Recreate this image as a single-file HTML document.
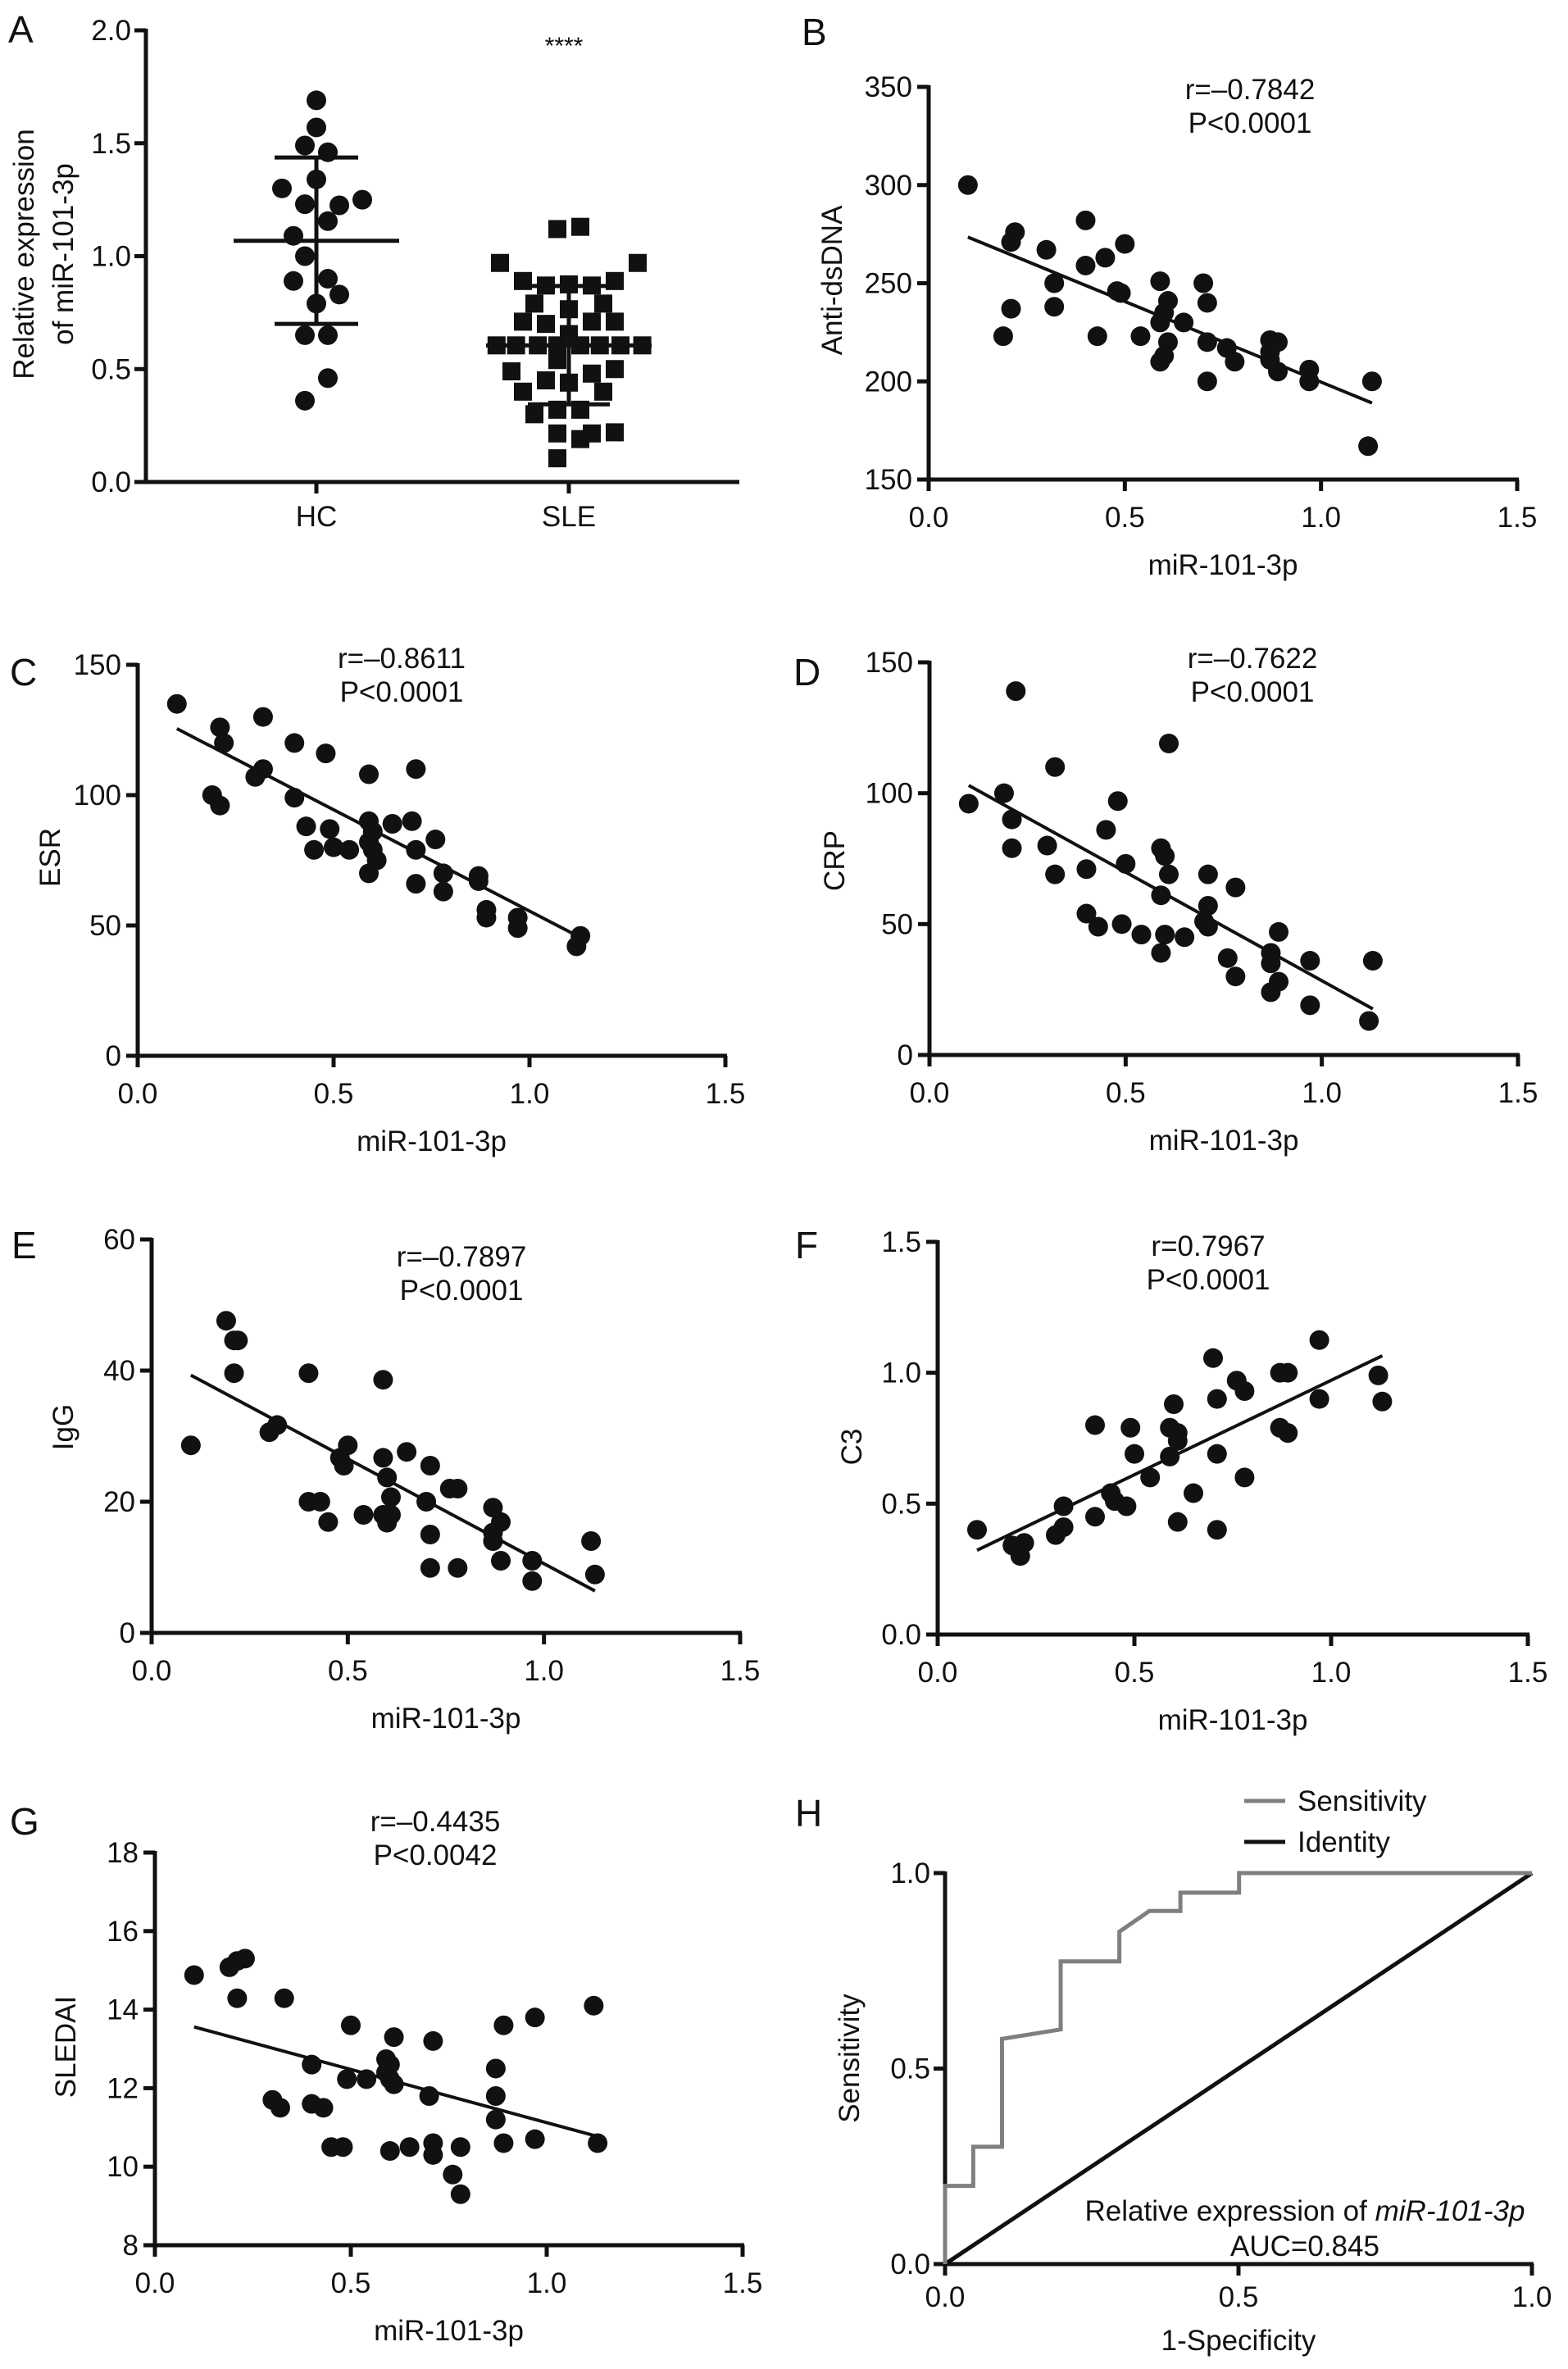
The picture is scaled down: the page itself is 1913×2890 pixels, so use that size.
<!DOCTYPE html>
<html><head><meta charset="utf-8"><style>
html,body{margin:0;padding:0;background:#fff}
svg{display:block}
text{font-family:"Liberation Sans",Arial,sans-serif;fill:#111}
</style></head><body>
<svg id="fig" width="1913" height="2890" viewBox="0 0 1913 2890" xmlns="http://www.w3.org/2000/svg"></svg>
<script>
// ---- Panel A data ----
const A_categories = ["HC","SLE"];
const A_HC_values = [1.69,1.57,1.49,1.46,1.34,1.30,1.23,1.225,1.25,1.155,1.09,1.00,0.89,0.90,0.83,0.79,0.65,0.65,0.46,0.36];
const A_HC_slot = [0,0,-1,1,0,-3,-1,2,4,1,-2,-1,-2,1,2,0,-1,1,1,-1];
const A_HC_stats = [1.068,1.437,0.70];
const A_SLE_values = [1.12,1.13,0.97,0.97,0.89,0.87,0.875,0.87,0.89,0.79,0.765,0.79,0.71,0.70,0.71,0.71,0.655,0.605,0.605,0.605,0.605,0.605,0.605,0.605,0.605,0.54,0.49,0.50,0.45,0.48,0.44,0.40,0.40,0.30,0.32,0.32,0.215,0.19,0.215,0.22,0.105];
const A_SLE_slot = [-1,1,-6,6,-4,-2,0,2,4,-3,0,3,-4,-2,2,4,0,-6.3,-4.6,-2.7,-1,1,2.7,4.5,6.4,-1,-5,4,-2,2,0,-4,3,-3,-1,1,-1,1,2,4,-1];
const A_SLE_stats = [0.605,0.868,0.344];
const A_yticks = ["0.0","0.5","1.0","1.5","2.0"];
// ---- Scatter panels ----
const xTicks = ["0.0","0.5","1.0","1.5"];
const B_x = [0.10,0.21,0.22,0.19,0.21,0.30,0.32,0.32,0.40,0.40,0.45,0.43,0.48,0.49,0.50,0.54,0.59,0.59,0.60,0.61,0.61,0.59,0.60,0.65,0.70,0.71,0.71,0.71,0.76,0.78,0.87,0.89,0.87,0.87,0.89,0.97,0.97,1.13,1.12];
const B_y = [300,271,276,223,237,267,250,238,282,259,263,223,246,245,270,223,251,230,235,241,220,210,213,230,250,240,220,200,217,210,221,220,215,211,205,206,200,200,167];
const B_fit = [[0.10,273.5],[1.13,189]];
const B_yticks = [150,200,250,300,350];
const C_x = [0.10,0.21,0.22,0.32,0.30,0.32,0.19,0.21,0.40,0.48,0.40,0.43,0.49,0.45,0.50,0.54,0.59,0.59,0.60,0.59,0.60,0.61,0.59,0.65,0.70,0.71,0.71,0.71,0.76,0.78,0.78,0.87,0.87,0.89,0.89,0.97,0.97,1.13,1.12];
const C_y = [135,126,120,130,107,110,100,96,120,116,99,88,87,79,80,79,108,90,86,82,79,75,70,89,90,110,79,66,83,70,63,69,67,56,53,53,49,46,42];
const C_fit = [[0.10,125.5],[1.13,45.4]];
const C_yticks = [0,50,100,150];
const D_x = [0.10,0.19,0.21,0.21,0.22,0.30,0.32,0.32,0.40,0.40,0.43,0.45,0.48,0.50,0.49,0.54,0.59,0.60,0.61,0.61,0.59,0.60,0.59,0.65,0.71,0.71,0.70,0.71,0.78,0.76,0.78,0.87,0.87,0.89,0.89,0.87,0.97,0.97,1.13,1.12];
const D_y = [96,100,90,79,139,80,110,69,71,54,49,86,97,73,50,46,79,76,69,119,61,46,39,45,69,57,51,49,64,37,30,39,35,47,28,24,36,19,36,13];
const D_fit = [[0.10,103],[1.13,17.6]];
const D_yticks = [0,50,100,150];
const E_x = [0.10,0.19,0.21,0.22,0.21,0.30,0.32,0.40,0.59,0.40,0.43,0.45,0.50,0.48,0.49,0.54,0.59,0.60,0.61,0.59,0.61,0.60,0.65,0.71,0.70,0.71,0.71,0.76,0.78,0.78,0.87,0.89,0.87,0.87,0.89,0.97,0.97,1.12,1.13];
const E_y = [28.6,47.6,44.6,44.6,39.6,30.6,31.7,39.6,38.6,20,20,16.9,28.6,26.7,25.5,18,26.7,23.7,20.7,18,18,16.8,27.6,25.5,20,15,9.9,22,22,9.9,19.1,16.9,15.3,14,11,11,7.9,14,8.9];
const E_fit = [[0.10,39.3],[1.13,6.4]];
const E_yticks = [0,20,40,60];
const F_x = [0.10,0.19,0.21,0.22,0.30,0.32,0.32,0.40,0.40,0.44,0.45,0.48,0.49,0.50,0.54,0.59,0.60,0.59,0.61,0.61,0.61,0.65,0.70,0.71,0.71,0.71,0.76,0.78,0.78,0.87,0.89,0.87,0.89,0.97,0.97,1.12,1.13];
const F_y = [0.40,0.34,0.30,0.35,0.38,0.41,0.49,0.80,0.45,0.54,0.51,0.49,0.79,0.69,0.60,0.68,0.88,0.79,0.77,0.74,0.43,0.54,1.056,0.90,0.69,0.40,0.97,0.93,0.60,1.0,1.0,0.79,0.77,1.125,0.90,0.99,0.89];
const F_fit = [[0.10,0.322],[1.13,1.065]];
const F_yticks = ["0.0","0.5","1.0","1.5"];
const G_x = [0.10,0.19,0.21,0.23,0.21,0.33,0.30,0.32,0.40,0.40,0.43,0.45,0.48,0.50,0.49,0.54,0.61,0.59,0.60,0.59,0.60,0.61,0.60,0.65,0.71,0.70,0.71,0.71,0.76,0.78,0.78,0.87,0.87,0.87,0.89,0.89,0.97,0.97,1.12,1.13];
const G_y = [14.88,15.08,15.24,15.3,14.29,14.29,11.7,11.5,12.6,11.6,11.5,10.5,10.5,13.6,12.23,12.23,13.3,12.74,12.6,12.4,12.23,12.1,10.4,10.5,13.2,11.8,10.6,10.3,9.8,10.5,9.3,12.5,11.8,11.2,13.6,10.6,13.8,10.7,14.1,10.6];
const G_fit = [[0.10,13.56],[1.13,10.77]];
const G_yticks = [8,10,12,14,16,18];
// ---- ROC ----
const roc_x = [0,0,0.048,0.048,0.097,0.097,0.197,0.197,0.297,0.297,0.348,0.401,0.401,0.501,0.501,1.0];
const roc_y = [0,0.2,0.2,0.3,0.3,0.576,0.60,0.774,0.774,0.85,0.903,0.903,0.95,0.95,1.0,1.0];
const H_ticks = ["0.0","0.5","1.0"];

const NS="http://www.w3.org/2000/svg";
const svg=document.getElementById('fig');
function mk(tag,attrs,parent,txt){const e=document.createElementNS(NS,tag);for(const k in attrs)e.setAttribute(k,attrs[k]);if(txt!==undefined)e.textContent=txt;(parent||svg).appendChild(e);return e;}
function lin(d0,d1,r0,r1){return v=>r0+(v-d0)*(r1-r0)/(d1-d0);}

function frame(g,X0,X1,Y0,Y1){
  const ax=mk('line',{x1:X0,y1:Y0+2,x2:X0,y2:Y1-2,stroke:'#111','stroke-width':5},g);
  
  const bx=mk('line',{x1:X0-14,y1:Y0,x2:X1+2,y2:Y0,stroke:'#111','stroke-width':5},g);
  
}
function scatter(o){
  const g=mk('g',{});
  
  
  const sx=lin(0,1.5,o.X0,o.X1), sy=lin(o.ymin,o.ymax,o.Y0,o.Y1);
  frame(g,o.X0,o.X1,o.Y0,o.Y1);
  o.yt.forEach(t=>{const v=+t,y=sy(v);
    mk('line',{x1:o.X0-14,y1:y,x2:o.X0,y2:y,stroke:'#111','stroke-width':5},g);
    const tx=mk('text',{x:o.X0-20,y:y+12,'font-size':35,'text-anchor':'end'},g,String(t));
    });
  xTicks.forEach(t=>{const x=sx(+t);
    mk('line',{x1:x,y1:o.Y0,x2:x,y2:o.Y0+14,stroke:'#111','stroke-width':5},g);
    const tx=mk('text',{x:x,y:o.Y0+58,'font-size':35,'text-anchor':'middle'},g,t);
    });
  const xt=mk('text',{x:(o.X0+o.X1)/2,y:o.Y0+116,'font-size':35,'text-anchor':'middle'},g,'miR-101-3p');
  
  const yt=mk('text',{x:0,y:0,'font-size':35,'text-anchor':'middle',transform:`translate(${o.ytx},${o.yty}) rotate(-90)`},g,o.ytitle);
  
  const lb=mk('text',{x:o.lx,y:o.ly,'font-size':46},g,o.letter);
  
  const r1=mk('text',{x:o.rx,y:o.ry,'font-size':35,'text-anchor':'middle'},g,o.rtext);
  
  const r2=mk('text',{x:o.rx,y:o.ry+41,'font-size':35,'text-anchor':'middle'},g,o.ptext);
  
  o.xs.forEach((xv,i)=>{const c=mk('circle',{cx:sx(xv),cy:sy(o.ys[i]),r:12,fill:'#111'},g);
    });
  const f=mk('line',{x1:sx(o.fit[0][0]),y1:sy(o.fit[0][1]),x2:sx(o.fit[1][0]),y2:sy(o.fit[1][1]),stroke:'#111','stroke-width':4},g);
  
}

// ---- Panel A ----
(function(){
  const g=mk('g',{});
  
  
  const X0=178,X1=900,Y0=588,Y1=37;
  const sy=lin(0,2,Y0,Y1); const cx=[386,694]; const slot=14;
  frame(g,X0,X1,Y0,Y1);
  A_yticks.forEach(t=>{const y=sy(+t);
    mk('line',{x1:X0-14,y1:y,x2:X0,y2:y,stroke:'#111','stroke-width':5},g);
    const tx=mk('text',{x:X0-18,y:y+12,'font-size':35,'text-anchor':'end'},g,t);
    });
  A_categories.forEach((c,i)=>{
    mk('line',{x1:cx[i],y1:Y0,x2:cx[i],y2:Y0+14,stroke:'#111','stroke-width':5},g);
    const tx=mk('text',{x:cx[i],y:Y0+54,'font-size':35,'text-anchor':'middle'},g,c);
    });
  A_HC_values.forEach((v,i)=>{const c=mk('circle',{cx:cx[0]+A_HC_slot[i]*slot,cy:sy(v),r:12,fill:'#111'},g);
    });
  A_SLE_values.forEach((v,i)=>{const s=mk('rect',{x:cx[1]+A_SLE_slot[i]*slot-11,y:sy(v)-11,width:22,height:22,fill:'#111'},g);
    });
  [[A_HC_stats,0,101,51],[A_SLE_stats,1,101,50]].forEach(([st,i,mw,cw])=>{
    const x=cx[i];
    mk('line',{x1:x-mw,y1:sy(st[0]),x2:x+mw,y2:sy(st[0]),stroke:'#111','stroke-width':5},g);
    mk('line',{x1:x,y1:sy(st[1]),x2:x,y2:sy(st[2]),stroke:'#111','stroke-width':5},g);
    mk('line',{x1:x-cw,y1:sy(st[1]),x2:x+cw,y2:sy(st[1]),stroke:'#111','stroke-width':5},g);
    mk('line',{x1:x-cw,y1:sy(st[2]),x2:x+cw,y2:sy(st[2]),stroke:'#111','stroke-width':5},g);
  });
  const st=mk('text',{x:688,y:66,'font-size':30,'text-anchor':'middle'},g,'****');
  
  const y1=mk('text',{x:0,y:0,'font-size':35,'text-anchor':'middle',transform:'translate(41,310) rotate(-90)'},g,'Relative expression');
  
  const y2=mk('text',{x:0,y:0,'font-size':35,'text-anchor':'middle',transform:'translate(89,310) rotate(-90)'},g,'of miR-101-3p');
  
  const lb=mk('text',{x:10,y:52,'font-size':46},g,'A');
  
})();

scatter({name:'panel-b-anti-dsdna',X0:1133,X1:1851,Y0:585,Y1:106,ymin:150,ymax:350,yt:B_yticks,xs:B_x,ys:B_y,fit:B_fit,ytitle:'Anti-dsDNA',ytx:1027,yty:342,letter:'B',lx:978,ly:55,rx:1525,ry:121,rtext:'r=\u20130.7842',ptext:'P<0.0001'});
scatter({name:'panel-c-esr',X0:168,X1:885,Y0:1288,Y1:811,ymin:0,ymax:150,yt:C_yticks,xs:C_x,ys:C_y,fit:C_fit,ytitle:'ESR',ytx:73,yty:1046,letter:'C',lx:12,ly:836,rx:490,ry:815,rtext:'r=\u20130.8611',ptext:'P<0.0001'});
scatter({name:'panel-d-crp',X0:1134,X1:1852,Y0:1287,Y1:808,ymin:0,ymax:150,yt:D_yticks,xs:D_x,ys:D_y,fit:D_fit,ytitle:'CRP',ytx:1030,yty:1050,letter:'D',lx:968,ly:836,rx:1528,ry:815,rtext:'r=\u20130.7622',ptext:'P<0.0001'});
scatter({name:'panel-e-igg',X0:185,X1:903,Y0:1992,Y1:1512,ymin:0,ymax:60,yt:E_yticks,xs:E_x,ys:E_y,fit:E_fit,ytitle:'IgG',ytx:89,yty:1741,letter:'E',lx:14,ly:1535,rx:563,ry:1545,rtext:'r=\u20130.7897',ptext:'P<0.0001'});
scatter({name:'panel-f-c3',X0:1144,X1:1864,Y0:1994,Y1:1515,ymin:0,ymax:1.5,yt:F_yticks,xs:F_x,ys:F_y,fit:F_fit,ytitle:'C3',ytx:1051,yty:1765,letter:'F',lx:970,ly:1535,rx:1474,ry:1532,rtext:'r=0.7967',ptext:'P<0.0001'});
scatter({name:'panel-g-sledai',X0:189,X1:906,Y0:2739,Y1:2260,ymin:8,ymax:18,yt:G_yticks,xs:G_x,ys:G_y,fit:G_fit,ytitle:'SLEDAI',ytx:92,yty:2497,letter:'G',lx:12,ly:2238,rx:531,ry:2234,rtext:'r=\u20130.4435',ptext:'P<0.0042'});

// ---- Panel H ROC ----
(function(){
  const g=mk('g',{});
  
  
  const X0=1153,X1=1869,Y0=2762,Y1=2285;
  const sx=lin(0,1,X0,X1), sy=lin(0,1,Y0,Y1);
  frame(g,X0,X1,Y0,Y1);
  H_ticks.forEach(t=>{const v=+t;
    mk('line',{x1:X0-14,y1:sy(v),x2:X0,y2:sy(v),stroke:'#111','stroke-width':5},g);
    const a=mk('text',{x:X0-18,y:sy(v)+12,'font-size':35,'text-anchor':'end'},g,t);
    
    mk('line',{x1:sx(v),y1:Y0,x2:sx(v),y2:Y0+14,stroke:'#111','stroke-width':5},g);
    const b=mk('text',{x:sx(v),y:Y0+52,'font-size':35,'text-anchor':'middle'},g,t);
    });
  const id=mk('line',{x1:sx(0),y1:sy(0),x2:sx(1),y2:sy(1),stroke:'#111','stroke-width':5},g);
  
  const pts=roc_x.map((x,i)=>sx(x)+','+sy(roc_y[i])).join(' ');
  const rc=mk('polyline',{points:pts,fill:'none',stroke:'#7f7f7f','stroke-width':5},g);
  
  const l1=mk('line',{x1:1518,y1:2197,x2:1568,y2:2197,stroke:'#7f7f7f','stroke-width':5},g);
  
  const t1=mk('text',{x:1583,y:2209,'font-size':35},g,'Sensitivity');
  
  const l2=mk('line',{x1:1518,y1:2247,x2:1568,y2:2247,stroke:'#111','stroke-width':5},g);
  
  const t2=mk('text',{x:1583,y:2259,'font-size':35},g,'Identity');
  
  const an=mk('text',{x:1592,y:2709,'font-size':35,'text-anchor':'middle'},g);
  
  mk('tspan',{},an,'Relative expression of ');
  mk('tspan',{'font-style':'italic'},an,'miR-101-3p');
  const au=mk('text',{x:1592,y:2752,'font-size':35,'text-anchor':'middle'},g,'AUC=0.845');
  
  const xt=mk('text',{x:1511,y:2867,'font-size':35,'text-anchor':'middle'},g,'1-Specificity');
  
  const yt=mk('text',{x:0,y:0,'font-size':35,'text-anchor':'middle',transform:'translate(1048,2511) rotate(-90)'},g,'Sensitivity');
  
  const lb=mk('text',{x:970,y:2228,'font-size':46},g,'H');
  
})();
</script>
</body></html>
